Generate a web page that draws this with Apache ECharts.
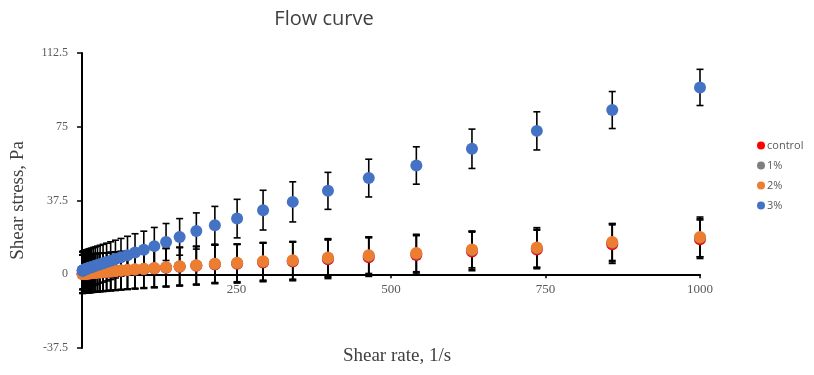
<!DOCTYPE html>
<html>
<head>
<meta charset="utf-8">
<script src="https://cdn.jsdelivr.net/npm/echarts@6/dist/echarts.min.js"></script>
<style>
html,body{margin:0;padding:0;background:#fff;}
#chart{width:814px;height:375px;}
</style>
</head>
<body>
<div id="chart"></div>
<script>
// ---- data ----
const seriesNames = ['control', '1%', '2%', '3%'];
const shearRate = [1, 1.17, 1.36, 1.58, 1.85, 2.15, 2.51, 2.93, 3.41, 3.98, 4.64, 5.41, 6.31, 7.36, 8.58, 10, 11.7, 13.6, 15.8, 18.5, 21.5, 25.1, 29.3, 34.1, 39.8, 46.4, 54.1, 63.1, 73.6, 85.8, 100, 117, 136, 158, 185, 215, 251, 293, 341, 398, 464, 541, 631, 736, 858, 1000];
const stressControl = [0.1, 0.11, 0.12, 0.13, 0.14, 0.15, 0.16, 0.18, 0.2, 0.22, 0.24, 0.26, 0.29, 0.32, 0.35, 0.4, 0.44, 0.49, 0.55, 0.62, 0.7, 0.8, 0.9, 1.0, 1.15, 1.3, 1.5, 1.75, 2.0, 2.25, 2.55, 2.9, 3.3, 3.8, 4.3, 5.0, 5.3, 6.0, 6.5, 7.6, 8.7, 9.8, 11.6, 12.6, 15.3, 17.8];
const stress1 = [0.11, 0.12, 0.13, 0.14, 0.15, 0.16, 0.18, 0.2, 0.22, 0.24, 0.26, 0.28, 0.31, 0.34, 0.38, 0.42, 0.47, 0.52, 0.58, 0.66, 0.75, 0.85, 0.95, 1.1, 1.22, 1.4, 1.6, 1.85, 2.1, 2.4, 2.7, 3.05, 3.45, 3.95, 4.45, 5.2, 5.6, 6.3, 6.8, 8.1, 9.3, 10.4, 12.2, 13.2, 16.0, 18.5];
const stress2 = [0.12, 0.13, 0.14, 0.15, 0.16, 0.17, 0.19, 0.21, 0.23, 0.25, 0.27, 0.3, 0.33, 0.36, 0.4, 0.45, 0.5, 0.55, 0.62, 0.7, 0.8, 0.9, 1.0, 1.15, 1.3, 1.5, 1.7, 1.95, 2.2, 2.5, 2.8, 3.2, 3.6, 4.1, 4.6, 5.4, 5.8, 6.6, 7.1, 8.5, 9.7, 10.8, 12.6, 13.6, 16.4, 19.0];
const stress3 = [1.8, 1.85, 1.9, 1.95, 2.0, 2.05, 2.1, 2.15, 2.2, 2.3, 2.4, 2.5, 2.6, 2.75, 2.9, 3.05, 3.25, 3.45, 3.7, 4.0, 4.3, 4.7, 5.1, 5.6, 6.2, 6.9, 7.7, 8.6, 9.7, 11.0, 12.4, 14.3, 16.4, 19.0, 22.0, 24.9, 28.3, 32.6, 36.8, 42.4, 48.9, 55.3, 63.8, 72.9, 83.5, 95.0];
const errControl = [9.8, 9.8, 9.8, 9.8, 9.8, 9.8, 9.8, 9.8, 9.8, 9.8, 9.8, 9.8, 9.8, 9.8, 9.8, 9.8, 9.8, 9.8, 9.8, 9.8, 9.8, 9.8, 9.8, 9.8, 9.8, 9.8, 9.8, 9.8, 9.8, 9.8, 9.8, 9.8, 9.8, 9.8, 9.8, 9.8, 9.8, 9.8, 9.8, 9.8, 9.8, 9.8, 9.8, 9.8, 9.8, 9.8];
const err1 = [9.7, 9.7, 9.7, 9.7, 9.7, 9.7, 9.7, 9.7, 9.7, 9.7, 9.7, 9.7, 9.7, 9.7, 9.7, 9.7, 9.7, 9.7, 9.7, 9.7, 9.7, 9.7, 9.7, 9.7, 9.7, 9.7, 9.7, 9.7, 9.7, 9.7, 9.7, 9.7, 9.7, 9.7, 9.7, 9.7, 9.7, 9.7, 9.7, 9.7, 9.7, 9.7, 9.7, 9.7, 9.7, 9.7];
const err2 = [9.6, 9.6, 9.6, 9.6, 9.6, 9.6, 9.6, 9.6, 9.6, 9.6, 9.6, 9.6, 9.6, 9.6, 9.6, 9.6, 9.6, 9.6, 9.6, 9.6, 9.6, 9.6, 9.6, 9.6, 9.6, 9.6, 9.6, 9.6, 9.6, 9.6, 9.6, 9.6, 9.6, 9.6, 9.6, 9.6, 9.6, 9.6, 9.6, 9.6, 9.3, 9.5, 9.3, 10.1, 9.4, 10.1];
const err3 = [9.6, 9.6, 9.6, 9.6, 9.6, 9.6, 9.6, 9.6, 9.6, 9.6, 9.6, 9.6, 9.6, 9.6, 9.6, 9.6, 9.6, 9.6, 9.6, 9.6, 9.6, 9.6, 9.6, 9.6, 9.6, 9.6, 9.6, 9.6, 9.6, 9.6, 9.5, 9.5, 9.4, 9.3, 9.2, 9.6, 9.8, 10.1, 10.2, 9.4, 9.6, 9.5, 10.0, 9.7, 9.4, 9.2];
const yTicks = [-37.5, 0, 37.5, 75, 112.5];
const xTicks = [0, 250, 500, 750, 1000];

const colors = ['#FF0000', '#7F7F7F', '#ED7D31', '#4472C4'];
const stressSets = [stressControl, stress1, stress2, stress3];
const errSets = [errControl, err1, err2, err3];

function errorRender(params, api) {
  const x = api.value(0), y = api.value(1), e = api.value(2);
  const top = api.coord([x, y + e]);
  const bot = api.coord([x, y - e]);
  const hw = 3.5;
  const st = { stroke: '#000', lineWidth: 1.6 };
  return {
    type: 'group',
    children: [
      { type: 'line', shape: { x1: top[0], y1: top[1], x2: bot[0], y2: bot[1] }, style: st },
      { type: 'line', shape: { x1: top[0] - hw, y1: top[1], x2: top[0] + hw, y2: top[1] }, style: st },
      { type: 'line', shape: { x1: bot[0] - hw, y1: bot[1], x2: bot[0] + hw, y2: bot[1] }, style: st }
    ]
  };
}

const series = [];
seriesNames.forEach((name, i) => {
  series.push({
    name: name + ' err',
    type: 'custom',
    renderItem: errorRender,
    data: shearRate.map((x, k) => [x, stressSets[i][k], errSets[i][k]]),
    encode: { x: 0, y: 1 },
    z: 1,
    silent: true
  });
});
seriesNames.forEach((name, i) => {
  series.push({
    name: name,
    type: 'scatter',
    data: shearRate.map((x, k) => [x, stressSets[i][k]]),
    symbol: 'circle',
    symbolSize: 12,
    itemStyle: { color: colors[i], opacity: 1 },
    z: 3
  });
});

// grid geometry: the x axis sits on y = 0, i.e. 37.5/150 of the plot height above the bottom
const gridTop = 53, gridBottom = 27, chartH = 375;
const plotH = chartH - gridTop - gridBottom;
const zeroOffset = -plotH * (0 - yTicks[0]) / (yTicks[yTicks.length - 1] - yTicks[0]);

const chart = echarts.init(document.getElementById('chart'));
chart.setOption({
  animation: false,
  color: colors,
  title: {
    text: 'Flow curve',
    left: 319,
    top: 4,
    textAlign: 'center',
    textStyle: { fontFamily: 'Open Sans', fontSize: 20, fontWeight: 'normal', color: '#404040' }
  },
  legend: {
    data: seriesNames,
    orient: 'vertical',
    left: 752,
    top: 135,
    icon: 'circle',
    itemWidth: 8,
    itemHeight: 8,
    itemGap: 9,
    textStyle: { fontFamily: 'Open Sans', fontSize: 11, color: '#595959', padding: [0, 0, 0, -3] }
  },
  grid: { left: 82, right: 114, top: gridTop, bottom: gridBottom, containLabel: false, outerBoundsMode: 'none' },
  xAxis: {
    type: 'value',
    min: xTicks[0],
    max: xTicks[xTicks.length - 1],
    interval: 250,
    offset: zeroOffset,
    name: 'Shear rate, 1/s',
    nameLocation: 'middle',
    nameGap: 72,
    nameTextStyle: { fontFamily: 'Liberation Serif', fontSize: 19, color: '#404040', padding: [0, 0, 0, 12] },
    axisLine: { show: true, onZero: false, lineStyle: { color: '#000', width: 2 } },
    axisTick: { show: true, inside: false, length: 4, lineStyle: { color: '#000', width: 1.5 } },
    axisLabel: { showMinLabel: false, margin: 9, fontFamily: 'Liberation Serif', fontSize: 13, color: '#595959', formatter: v => String(v) },
    splitLine: { show: false }
  },
  yAxis: {
    type: 'value',
    min: yTicks[0],
    max: yTicks[yTicks.length - 1],
    interval: 37.5,
    name: 'Shear stress, Pa',
    nameLocation: 'middle',
    nameGap: 54,
    nameTextStyle: { fontFamily: 'Liberation Serif', fontSize: 19, color: '#404040' },
    axisLine: { show: true, onZero: false, lineStyle: { color: '#000', width: 2 } },
    axisTick: { show: true, inside: false, length: 5, lineStyle: { color: '#000', width: 1.5 } },
    axisLabel: { margin: 14, fontFamily: 'Liberation Serif', fontSize: 12, color: '#595959', formatter: v => String(v) },
    splitLine: { show: false }
  },
  series: series
});
</script>
</body>
</html>
